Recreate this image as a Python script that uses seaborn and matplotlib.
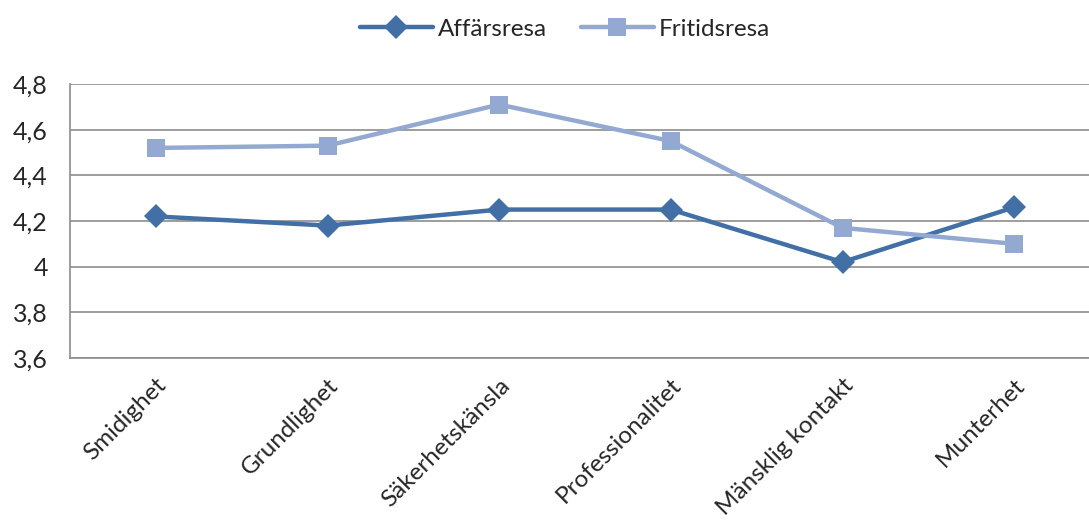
import matplotlib
matplotlib.use("Agg")
import matplotlib.pyplot as plt
import seaborn as sns
import pandas as pd
from matplotlib.ticker import FixedLocator, FuncFormatter

categories = ["Smidighet", "Grundlighet", "Säkerhetskänsla", "Professionalitet",
              "Mänsklig kontakt", "Munterhet"]
affarsresa = [4.22, 4.18, 4.25, 4.25, 4.02, 4.26]
fritidsresa = [4.52, 4.53, 4.71, 4.55, 4.17, 4.10]
series_names = ["Affärsresa", "Fritidsresa"]
y_ticks = [3.6, 3.8, 4.0, 4.2, 4.4, 4.6, 4.8]

sns.set_style("white")
plt.rcParams["font.family"] = ["Lato", "DejaVu Sans"]

df = pd.DataFrame({
    "kategori": list(range(len(categories))) * 2,
    "värde": affarsresa + fritidsresa,
    "serie": [series_names[0]] * len(categories) + [series_names[1]] * len(categories),
})

colors = {"Affärsresa": "#416FA6", "Fritidsresa": "#93A9D1"}
markers = {"Affärsresa": "D", "Fritidsresa": "s"}

fig = plt.figure(figsize=(10.89, 5.21), dpi=100)
ax = fig.add_axes([70 / 1089, 1 - 358 / 521, 1030 / 1089, 274 / 521])

sns.lineplot(data=df, x="kategori", y="värde", hue="serie", style="serie",
             palette=colors, markers=markers, dashes=False, linewidth=3.2,
             markersize=12.5, markeredgewidth=0, ax=ax, legend=True)

ax.set_xlim(-0.5, len(categories) - 0.5)
ax.set_ylim(3.6, 4.8)
ax.yaxis.set_major_locator(FixedLocator(y_ticks))
ax.yaxis.set_major_formatter(FuncFormatter(
    lambda v, p: ("%g" % round(v, 1)).replace(".", ",")))
ax.grid(axis="y", color="#8C8C8C", linewidth=1.2)
ax.set_axisbelow(True)

ax.set_xticks(range(len(categories)))
ax.set_xticklabels(categories, rotation=45, ha="right", rotation_mode="anchor",
                   fontsize=17.5)
ax.tick_params(axis="x", which="major", length=0, pad=12)
ax.set_xticks([i - 0.5 for i in range(len(categories) + 1)], minor=True)
ax.tick_params(axis="x", which="minor", length=7, width=1.2, color="#8C8C8C",
               direction="out")
ax.tick_params(axis="y", length=7, width=1.2, color="#8C8C8C", direction="out",
               labelsize=18, pad=9)
ax.set_xlabel("")
ax.set_ylabel("")

for side in ["top", "right"]:
    ax.spines[side].set_visible(False)
for side in ["left", "bottom"]:
    ax.spines[side].set_color("#8C8C8C")
    ax.spines[side].set_linewidth(1.2)

handles, labels = ax.get_legend_handles_labels()
ax.legend(handles, labels, loc="center", bbox_to_anchor=(565 / 1089, 1 - 29 / 521),
          bbox_transform=fig.transFigure, ncol=2, frameon=False, fontsize=17.5,
          handlelength=3.0, columnspacing=1.4, handletextpad=0.2)

fig.savefig("out.png", dpi=100)
